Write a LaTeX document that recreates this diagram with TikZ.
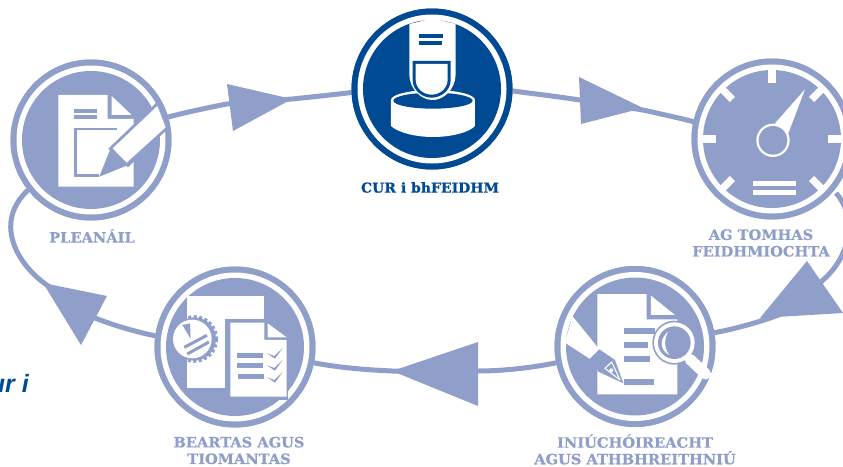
\documentclass[tikz,border=0pt]{standalone}
\usepackage{fontspec}
\setmainfont{DejaVu Serif}
\newfontfamily\lblfont[FakeStretch=1.03,FakeBold=0.6]{DejaVu Serif Bold}
\newfontfamily\sidefont{Liberation Sans}
\definecolor{pale}{HTML}{8F9FCA}
\definecolor{navy}{HTML}{004A93}
\tikzset{
 x=1pt,y=-1pt,
 disc/.style={circle,fill=#1,minimum size=161pt,inner sep=0pt,outer sep=0pt},
 link/.style={draw=pale,line width=5pt},
 head/.style={fill=pale},
 lab/.style={font=\lblfont\fontsize{14.2}{16.6}\selectfont,align=center,text=pale,inner sep=0pt},
 zoomed/.style 2 args={shift={(#1,#2)},x=0.3333pt,y=-0.3333pt},
 w/.style={fill=white},
 p/.style={fill=pale},
 n/.style={fill=navy},
}
\begin{document}
\begin{tikzpicture}
\useasboundingbox (0,0) rectangle (843,466);
\clip (0,0) rectangle (843,466);
% discs
\node[disc=pale] (plan) at (91,140) {};
\node[disc=navy] (cur) at (432,89) {};
\node[disc=pale] (ag) at (772,139) {};
\node[disc=pale] (ini) at (635,346.5) {};
\node[disc=pale] (bea) at (235,347) {};
% arrow coordinates
\coordinate (a1) at (227,104);
\coordinate (a1b) at (292,99);
\coordinate (a2) at (580,100);
\coordinate (a2b) at (643,110);
\coordinate (a3) at (836,193);
\coordinate (a3c) at (823,280);
\coordinate (a3d) at (790,310);
\coordinate (a4) at (478,371);
\coordinate (a4b) at (392,371);
\coordinate (a5) at (95,318);
\coordinate (a5b) at (44,283);
\coordinate (a5c) at (28,190);
% connectors
\path[link] (plan) .. controls (175,115) and (210,107) .. (a1) -- (a1b) .. controls (330,95) and (380,90) .. (cur);
\path[link] (cur) .. controls (500,90) and (540,94) .. (a2) -- (a2b) .. controls (680,118) and (720,128) .. (ag);
\path[link] (a3) .. controls (856,215) and (852,255) .. (a3c) .. controls (812,292) and (800,305) .. (a3d) .. controls (770,320) and (730,330) .. (ini);
\path[link] (ini) .. controls (560,362) and (520,371) .. (a4) -- (a4b) .. controls (370,370) and (340,368) .. (bea);
\path[link] (bea) .. controls (150,335) and (120,328) .. (a5) .. controls (80,305) and (60,295) .. (a5b) .. controls (16,262) and (-6,222) .. (a5c);
% redraw discs over the connectors
\foreach \nm/\c in {plan/pale,cur/navy,ag/pale,ini/pale,bea/pale}{
  \fill[\c] (\nm) circle (80.5);
  \fill[white] (\nm) circle (74.5);
  \fill[\c] (\nm) circle (69);
}
% arrow heads
\fill[head] (227,84) -- (292,99) -- (233,131) -- cycle;
\fill[head] (579,77) -- (643,108) -- (581,124) -- cycle;
\fill[head] (807,261) -- (843,313) -- (760,318) -- cycle;
\fill[head] (478,342) -- (392,371) -- (478,406) -- cycle;
\fill[head] (43,283) -- (107,296) -- (81,345) -- cycle;
% PLAN icon
\begin{scope}[zoomed={0}{50}]
 \fill[w] (175,135) -- (323,135) -- (323,207) -- (401,207) -- (401,410) -- (175,410) -- cycle;
 \fill[w] (335,138) -- (395,195) -- (335,195) -- cycle;
 \fill[p] (222,177) rectangle (291,189);
 \fill[p] (222,195) rectangle (291,207);
 \fill[p] (222,233) rectangle (350,240);
 \fill[p] (222,233) rectangle (230,380);
 \fill[p] (222,373) rectangle (297,380);
 \fill[p] (325,296) -- (470,157) -- (500,240) -- (384,352) -- cycle;
 \fill[w] (338,295) -- (472,168) -- (497,232) -- (380,338) -- cycle;
 \fill[p] (330,300) -- (380,347) -- (298,380) -- cycle;
\end{scope}
% CUR icon
\begin{scope}[zoomed={340}{0}]
 \fill[w] (153,300) -- (153,378) .. controls (170,395) and (220,411) .. (279,411) .. controls (340,411) and (390,395) .. (405,378) -- (405,300) -- cycle;
 \fill[w] (279,300) ellipse [x radius=126,y radius=30];
 \fill[n] (279,302) ellipse [x radius=119,y radius=24];
 \fill[w] (208,72) -- (278,55) -- (347,72) -- (347,225) .. controls (345,270) and (310,300) .. (278,300) .. controls (245,300) and (210,270) .. (208,225) -- cycle;
 \fill[n] (218,183) -- (332,183) -- (332,240) .. controls (332,270) and (305,293) .. (275,293) .. controls (245,293) and (218,270) .. (218,240) -- cycle;
 \fill[w] (227,192) -- (323,192) -- (323,238) .. controls (323,265) and (300,284) .. (275,284) .. controls (250,284) and (227,265) .. (227,238) -- cycle;
 \fill[n] (238,102) rectangle (309,114);
 \fill[n] (238,123) rectangle (306,135);
\end{scope}
% AG icon
\foreach \a in {0,45,135,180,225,270,315}{
  \fill[white,rotate around={-\a:(ag)}] ([xshift=56pt,yshift=-3.7pt]ag) rectangle ([xshift=71pt,yshift=3.7pt]ag);
}
\begin{scope}[zoomed={680}{80}]
 \fill[w] (375,28) -- (325,160) -- (285,130) -- cycle;
 \fill[w] (279,181) circle (50);
 \fill[p] (279,181) circle (43);
 \fill[w] (218,303) rectangle (348,318);
 \fill[w] (218,330) rectangle (348,345);
\end{scope}
% INI icon
\begin{scope}[zoomed={540}{260}]
 \fill[w] (172,102) -- (320,102) -- (320,178) -- (412,178) -- (412,403) -- (172,403) -- cycle;
 \fill[w] (333,107) -- (405,165) -- (333,165) -- cycle;
 \fill[p] (252,205) rectangle (345,222);
 \fill[p] (252,246) rectangle (325,264);
 \fill[p] (252,288) rectangle (330,305);
 \fill[p] (252,358) rectangle (342,375);
 \fill[w] (97,168) -- (178,268) -- (150,297) -- (75,248) -- cycle;
 \fill[p] (178,268) -- (225,300) -- (250,370) -- (175,335) -- (150,297) -- cycle;
 \draw[white,line width=1.1pt,line join=round] (195,325) -- (215,306) -- (240,360) -- cycle;
 \fill[w] (214,331) circle (6);
 \fill[p] (403,248) circle (66);
 \draw[white,line width=11pt,line cap=round] (450,298) -- (497,342);
 \fill[w] (403,248) circle (61);
 \fill[p] (403,248) circle (49);
 \fill[w] (385,215) .. controls (358,235) and (358,270) .. (388,285) .. controls (372,265) and (372,235) .. (385,215) -- cycle;
\end{scope}
% BEA icon
\begin{scope}[zoomed={145}{260}]
 \fill[w] (125,107) rectangle (358,383);
 \fill[p] (240,178) rectangle (430,420);
 \fill[w] (256,188) -- (358,188) -- (358,240) -- (425,240) -- (425,410) -- (256,410) -- cycle;
 \fill[w] (368,190) -- (425,232) -- (368,232) -- cycle;
 \fill[p] (148,237) circle (65);
 \draw[pale,line width=3pt,dash pattern=on 3pt off 2.5pt] (148,237) circle (67);
 \fill[w] (142,237) circle (58);
 \fill[p] (112,195) -- (135,190) -- (137,236) -- cycle;
 \draw[pale,line width=3pt] (118,262) -- (186,226);
 \draw[pale,line width=3pt] (127,282) -- (192,246);
 \fill[p] (276,280) rectangle (354,295);
 \fill[p] (276,310) rectangle (354,325);
 \fill[p] (280,342) rectangle (357,357);
 \foreach \yy in {0,36,72}{
  \fill[p] (366,\yy+280) -- (388,\yy+288) -- (414,\yy+263) -- (390,\yy+296) -- cycle;
 }
\end{scope}
% labels
\node[lab] (lplan) at (92,236) {PLEANÁIL};
\node[lab,text=navy,font=\lblfont\fontsize{13.6}{16}\selectfont] (lcur) at (430,187.5) {CUR i bhFEIDHM};
\node[lab] (lag) at (761,243) {AG TOMHAS\\FEIDHMIOCHTA};
\node[lab] (lini) at (635,449.5) {INIÚCHÓIREACHT\\AGUS ATHBHREITHNIÚ};
\node[lab] (lbea) at (239,450.5) {BEARTAS AGUS\\TIOMANTAS};
\node[anchor=base east,inner sep=0pt,text=navy,font=\sidefont\bfseries\itshape\fontsize{25}{25}\selectfont] (side) at (29,392) {ur i};
\end{tikzpicture}
\end{document}
